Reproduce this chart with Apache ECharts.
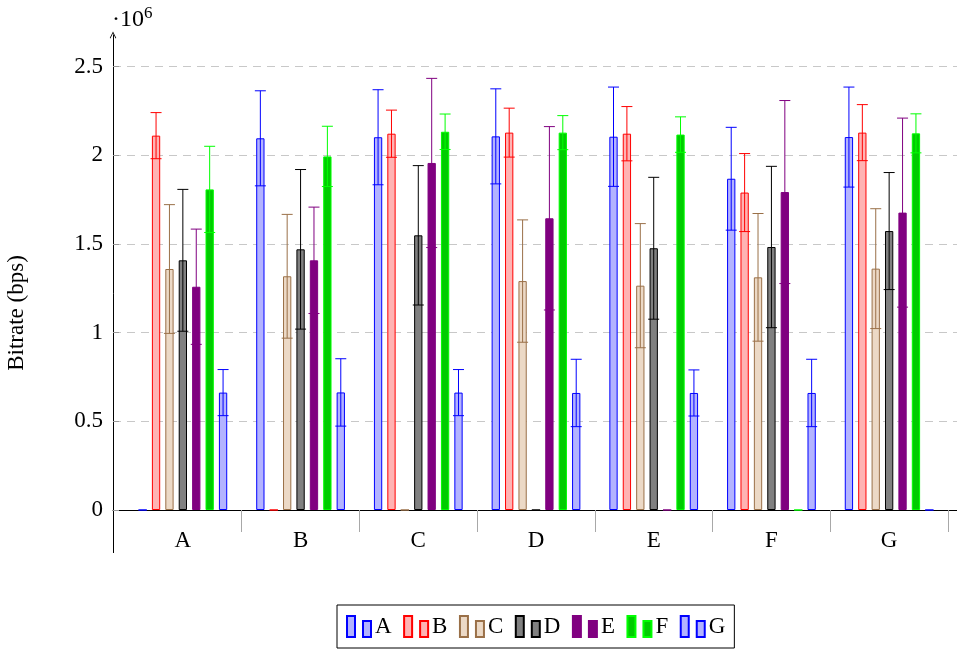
<!DOCTYPE html>
<html>
<head>
<meta charset="utf-8">
<script src="https://cdn.jsdelivr.net/npm/echarts@6/dist/echarts.min.js"></script>
<style>
  html, body { margin: 0; padding: 0; background: #ffffff; }
  #chart { width: 957px; height: 653px; }
</style>
</head>
<body>
<div id="chart"></div>
<script>
// Categories on the x axis and series names (one bar per series in every group)
const categories = ['A', 'B', 'C', 'D', 'E', 'F', 'G'];
const seriesNames = ['A', 'B', 'C', 'D', 'E', 'F', 'G'];

// Mean bitrate per category (bps), one array per series
const valuesA = [0, 2096000, 2102000, 2107000, 2105000, 1868000, 2103000];
const valuesB = [2111000, 0, 2122000, 2128000, 2122000, 1790000, 2128000];
const valuesC = [1359000, 1318000, 0, 1291000, 1265000, 1312000, 1361000];
const valuesD = [1408000, 1470000, 1549000, 0, 1476000, 1483000, 1573000];
const valuesE = [1259000, 1408000, 1957000, 1645000, 0, 1793000, 1677000];
const valuesF = [1808000, 1994000, 2133000, 2128000, 2117000, 0, 2124000];
const valuesG = [662000, 663000, 662000, 660000, 660000, 660000, 0];

// Symmetric error (± bps) per category, one array per series
const errorsA = [0, 268000, 268000, 268000, 280000, 290000, 282000];
const errorsB = [130000, 0, 133000, 138000, 153000, 220000, 158000];
const errorsC = [363000, 349000, 0, 345000, 350000, 360000, 338000];
const errorsD = [400000, 450000, 393000, 0, 400000, 455000, 330000];
const errorsE = [325000, 300000, 477000, 517000, 0, 516000, 533000];
const errorsF = [243000, 170000, 100000, 96000, 100000, 0, 110000];
const errorsG = [130000, 190000, 130000, 190000, 130000, 190000, 0];

// Y tick labels (in units of 10^6)
const yTickLabels = ['0', '0.5', '1', '1.5', '2', '2.5'];

const allValues = [valuesA, valuesB, valuesC, valuesD, valuesE, valuesF, valuesG];
const allErrors = [errorsA, errorsB, errorsC, errorsD, errorsE, errorsF, errorsG];

// Styling
const fills   = ['#b3b3ff', '#ffb3b3', '#ecd9c6', '#808080', '#800080', '#00cc00', '#b3b3ff'];
const strokes = ['#0000ff', '#ff0000', '#9a7048', '#000000', '#800080', '#00ff00', '#0000ff'];
const FONT = 'Liberation Serif';
const FS = 23;
const BAR_W = 8.3;
const BAR_GAP = 0.615;               // fraction of bar width
const PITCH = BAR_W * (1 + BAR_GAP); // centre-to-centre distance of bars in a group
const CAP = 5.5;                      // half width of error-bar caps

const chart = echarts.init(document.getElementById('chart'), null, { renderer: 'canvas' });

const barSeries = seriesNames.map((name, i) => ({
  name: name,
  type: 'bar',
  xAxisIndex: 1,
  yAxisIndex: 1,
  barWidth: BAR_W,
  barGap: (BAR_GAP * 100) + '%',
  data: allValues[i],
  itemStyle: { color: fills[i], borderColor: strokes[i], borderWidth: 1 },
  emphasis: { disabled: true },
  animation: false,
  z: 2
}));

// Error bars: [category index, series index, value, error]
const errorData = [];
allValues.forEach((vals, si) => {
  vals.forEach((v, ci) => {
    if (allErrors[si][ci] > 0) errorData.push([ci, si, v, allErrors[si][ci]]);
  });
});

const errorSeries = {
  type: 'custom',
  xAxisIndex: 1,
  yAxisIndex: 1,
  encode: { x: 0, y: 2 },
  data: errorData,
  clip: false,
  z: 5,
  silent: true,
  animation: false,
  renderItem: function (params, api) {
    const ci = api.value(0), si = api.value(1), v = api.value(2), e = api.value(3);
    const c = api.coord([ci, v]);
    const x = c[0] + (si - 3) * PITCH;
    const yTop = api.coord([ci, v + e])[1];
    const yBot = api.coord([ci, v - e])[1];
    const style = { stroke: strokes[si], lineWidth: 1, fill: null };
    return {
      type: 'group',
      children: [
        { type: 'line', shape: { x1: x, y1: yTop, x2: x, y2: yBot }, style: style },
        { type: 'line', shape: { x1: x - CAP, y1: yTop, x2: x + CAP, y2: yTop }, style: style },
        { type: 'line', shape: { x1: x - CAP, y1: yBot, x2: x + CAP, y2: yBot }, style: style }
      ]
    };
  }
};

const option = {
  backgroundColor: '#ffffff',
  animation: false,
  textStyle: { fontFamily: FONT, color: '#000' },
  grid: [
    // frame: gridlines, y labels, x axis line
    { left: 113, right: 0, top: 66.67, bottom: 143 },
    // bars
    { left: 124, right: 9, top: 66.67, bottom: 143 },
    // y axis line with arrow
    { left: 113, right: 0, top: 35, bottom: 100.4 }
  ],
  xAxis: [
    {
      gridIndex: 0, type: 'value', min: 0, max: 1,
      axisLine: { show: true, onZero: false, lineStyle: { color: '#000', width: 1 } },
      axisTick: { show: false }, axisLabel: { show: false }, splitLine: { show: false }
    },
    {
      gridIndex: 1, type: 'category', data: categories,
      axisLine: { show: false },
      axisTick: {
        show: true, length: 22, inside: false, alignWithLabel: false,
        interval: function (i) { return i !== 0; },
        lineStyle: { color: '#a8a8a8', width: 1 }
      },
      axisLabel: { fontFamily: FONT, fontSize: FS, color: '#000', margin: 19 },
      splitLine: { show: false }
    },
    { gridIndex: 2, type: 'value', show: false, min: 0, max: 1 }
  ],
  yAxis: [
    {
      gridIndex: 0, type: 'value', min: 0, max: 2500000, interval: 500000,
      axisLine: { show: false },
      axisTick: { show: true, inside: true, length: 6, lineStyle: { color: '#999' } },
      axisLabel: {
        fontFamily: FONT, fontSize: FS, color: '#000', margin: 10,
        formatter: function (v) { return yTickLabels[Math.round(v / 500000)]; }
      },
      splitLine: { show: true, lineStyle: { color: '#c8c8c8', type: [8, 6], width: 1 } }
    },
    {
      gridIndex: 1, type: 'value', min: 0, max: 2500000, show: false,
      splitLine: { show: false }
    },
    {
      gridIndex: 2, type: 'value', min: -240000, max: 2680000,
      axisLine: {
        show: true, onZero: false,
        symbol: ['none', 'path://M0,10 L5,0 L10,10 L9,10.8 L5,2.6 L1,10.8 Z'],
        symbolSize: [8, 7],
        lineStyle: { color: '#000', width: 1 }
      },
      axisTick: { show: false }, axisLabel: { show: false }, splitLine: { show: false }
    }
  ],
  legend: {
    data: seriesNames,
    left: 337, top: 605,
    orient: 'horizontal',
    icon: 'path://M0,0h8v21h-8zM16,5h8v16h-8z',
    itemWidth: 24, itemHeight: 21, itemGap: 11.5,
    padding: [10, 9, 10, 9],
    borderColor: '#000', borderWidth: 1,
    textStyle: { fontFamily: FONT, fontSize: FS, color: '#000', padding: [0, 0, 0, -1] },
    selectedMode: false
  },
  graphic: [
    {
      type: 'text', left: 112, top: 5,
      style: {
        text: '{a|·10}{b|6}',
        rich: {
          a: { fontFamily: FONT, fontSize: 24, fill: '#000' },
          b: { fontFamily: FONT, fontSize: 17, fill: '#000', padding: [0, 0, 12, 0] }
        }
      }
    },
    {
      type: 'text', x: 17, y: 313, rotation: Math.PI / 2,
      style: {
        text: 'Bitrate (bps)', fontFamily: FONT, fontSize: FS, fill: '#000',
        align: 'center', verticalAlign: 'middle'
      }
    }
  ],
  series: barSeries.concat([errorSeries])
};

chart.setOption(option);
</script>
</body>
</html>
